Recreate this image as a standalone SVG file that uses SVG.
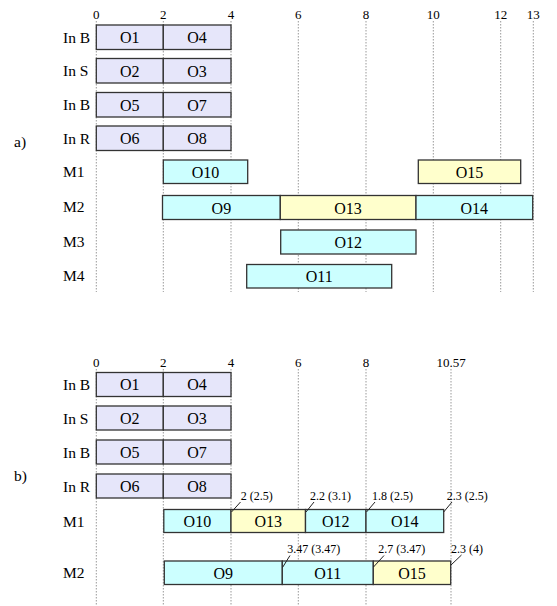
<svg xmlns="http://www.w3.org/2000/svg" width="557" height="606" viewBox="0 0 557 606">
<style>
.tk{font-size:13px;text-anchor:middle}
.rl{font-size:15.5px}
.bl{font-size:16px;text-anchor:middle}
.an{font-size:12px}
.grid{stroke:#999;stroke-width:1;stroke-dasharray:1.5,1.5;fill:none}
.bx{stroke:#333;stroke-width:1.3}
.in{fill:#e6e6fa}
.cy{fill:#ccffff}
.ye{fill:#ffffcc}
.ld{stroke:#222;stroke-width:1;fill:none}
</style>
<g font-family="Liberation Serif, Times New Roman, DejaVu Serif, serif" fill="#000">
<g id="connectors">
<path class="grid" d="M96.3,21V292M163.3,21V292M231,21V292M298.3,21V292M366,21V292M433.3,21V292M500.7,21V292M533.3,21V292"/>
<path class="grid" d="M96.3,369V606M163.3,369V606M231,369V606M298.3,369V606M366,369V606M451,369V606"/>
</g>
<g id="axis-a">
<text class="tk" x="96.3" y="19">0</text><text class="tk" x="163.3" y="19">2</text><text class="tk" x="231" y="19">4</text><text class="tk" x="298.3" y="19">6</text><text class="tk" x="366" y="19">8</text><text class="tk" x="433.3" y="19">10</text><text class="tk" x="500.7" y="19">12</text><text class="tk" x="533.3" y="19">13</text>
</g>
<g id="labels-a">
<text class="rl" x="14" y="147">a)</text>
<text class="rl" x="63" y="42.5">In B</text>
<text class="rl" x="63" y="76">In S</text>
<text class="rl" x="63" y="110">In B</text>
<text class="rl" x="63" y="143.5">In R</text>
<text class="rl" x="63" y="177">M1</text>
<text class="rl" x="63" y="212">M2</text>
<text class="rl" x="63" y="246.5">M3</text>
<text class="rl" x="63" y="281">M4</text>
</g>
<g id="a-O1"><rect class="bx in" x="96.3" y="25" width="67" height="24.5"/><text class="bl" x="129.8" y="43">O1</text></g>
<g id="a-O4"><rect class="bx in" x="163.3" y="25" width="67.7" height="24.5"/><text class="bl" x="197" y="43">O4</text></g>
<g id="a-O2"><rect class="bx in" x="96.3" y="58.5" width="67" height="24.5"/><text class="bl" x="129.8" y="76.5">O2</text></g>
<g id="a-O3"><rect class="bx in" x="163.3" y="58.5" width="67.7" height="24.5"/><text class="bl" x="197" y="76.5">O3</text></g>
<g id="a-O5"><rect class="bx in" x="96.3" y="92.5" width="67" height="24.5"/><text class="bl" x="129.8" y="110.5">O5</text></g>
<g id="a-O7"><rect class="bx in" x="163.3" y="92.5" width="67.7" height="24.5"/><text class="bl" x="197" y="110.5">O7</text></g>
<g id="a-O6"><rect class="bx in" x="96.3" y="126" width="67" height="24.5"/><text class="bl" x="129.8" y="144">O6</text></g>
<g id="a-O8"><rect class="bx in" x="163.3" y="126" width="67.7" height="24.5"/><text class="bl" x="197" y="144">O8</text></g>
<g id="a-O10"><rect class="bx cy" x="163.3" y="160" width="84.4" height="23.5"/><text class="bl" x="205.5" y="177.5">O10</text></g>
<g id="a-O15"><rect class="bx ye" x="418.3" y="160" width="102.4" height="23.5"/><text class="bl" x="469.5" y="177.5">O15</text></g>
<g id="a-O9"><rect class="bx cy" x="162.5" y="195.5" width="117.8" height="24"/><text class="bl" x="221.4" y="213.5">O9</text></g>
<g id="a-O13"><rect class="bx ye" x="280.3" y="195.5" width="135.7" height="24"/><text class="bl" x="348" y="213.5">O13</text></g>
<g id="a-O14"><rect class="bx cy" x="416" y="195.5" width="116.7" height="24"/><text class="bl" x="474.3" y="213.5">O14</text></g>
<g id="a-O12"><rect class="bx cy" x="280.7" y="230" width="135.3" height="24"/><text class="bl" x="348.3" y="248">O12</text></g>
<g id="a-O11"><rect class="bx cy" x="246.7" y="264.5" width="145" height="23.5"/><text class="bl" x="319.2" y="282">O11</text></g>

<g id="axis-b">
<text class="tk" x="96.3" y="367">0</text><text class="tk" x="163.3" y="367">2</text><text class="tk" x="231" y="367">4</text><text class="tk" x="298.3" y="367">6</text><text class="tk" x="366" y="367">8</text><text class="tk" x="451" y="367">10.57</text>
</g>
<g id="labels-b">
<text class="rl" x="14" y="481">b)</text>
<text class="rl" x="63" y="390">In B</text>
<text class="rl" x="63" y="424">In S</text>
<text class="rl" x="63" y="458">In B</text>
<text class="rl" x="63" y="492">In R</text>
<text class="rl" x="63" y="527">M1</text>
<text class="rl" x="63" y="578">M2</text>
</g>
<g id="b-O1"><rect class="bx in" x="96.3" y="372.5" width="67" height="24"/><text class="bl" x="129.8" y="390">O1</text></g>
<g id="b-O4"><rect class="bx in" x="163.3" y="372.5" width="67.7" height="24"/><text class="bl" x="197" y="390">O4</text></g>
<g id="b-O2"><rect class="bx in" x="96.3" y="406" width="67" height="24"/><text class="bl" x="129.8" y="424">O2</text></g>
<g id="b-O3"><rect class="bx in" x="163.3" y="406" width="67.7" height="24"/><text class="bl" x="197" y="424">O3</text></g>
<g id="b-O5"><rect class="bx in" x="96.3" y="440" width="67" height="24"/><text class="bl" x="129.8" y="458">O5</text></g>
<g id="b-O7"><rect class="bx in" x="163.3" y="440" width="67.7" height="24"/><text class="bl" x="197" y="458">O7</text></g>
<g id="b-O6"><rect class="bx in" x="96.3" y="474" width="67" height="24"/><text class="bl" x="129.8" y="492">O6</text></g>
<g id="b-O8"><rect class="bx in" x="163.3" y="474" width="67.7" height="24"/><text class="bl" x="197" y="492">O8</text></g>
<g id="b-O10"><rect class="bx cy" x="163.8" y="509.5" width="67.2" height="23"/><text class="bl" x="197.4" y="527">O10</text></g>
<g id="b-O13"><rect class="bx ye" x="231" y="509.5" width="74.5" height="23"/><text class="bl" x="268.3" y="527">O13</text></g>
<g id="b-O12"><rect class="bx cy" x="305.5" y="509.5" width="60.5" height="23"/><text class="bl" x="335.8" y="527">O12</text></g>
<g id="b-O14"><rect class="bx cy" x="366" y="509.5" width="77.7" height="23"/><text class="bl" x="404.8" y="527">O14</text></g>
<g id="b-O9"><rect class="bx cy" x="164.3" y="561" width="118" height="23.5"/><text class="bl" x="223.3" y="578.5">O9</text></g>
<g id="b-O11"><rect class="bx cy" x="282.3" y="561" width="91" height="23.5"/><text class="bl" x="327.8" y="578.5">O11</text></g>
<g id="b-O15"><rect class="bx ye" x="373.3" y="561" width="77.4" height="23.5"/><text class="bl" x="412" y="578.5">O15</text></g>
<g id="annotations">
<path class="ld" d="M231.5,512L240.5,502M306,512L314,502M366.5,512L375,502M443.7,512L452,502M282.5,567.5L290,555.5M373.5,567L384,555.5M451,565L461.5,555"/>
<text class="an" x="240.7" y="499.5">2 (2.5)</text>
<text class="an" x="310" y="499.5">2.2 (3.1)</text>
<text class="an" x="372" y="499.5">1.8 (2.5)</text>
<text class="an" x="446.7" y="499.5">2.3 (2.5)</text>
<text class="an" x="287.3" y="552.5">3.47 (3.47)</text>
<text class="an" x="378.3" y="552.5">2.7 (3.47)</text>
<text class="an" x="451" y="552.5">2.3 (4)</text>
</g>
</g>
</svg>
